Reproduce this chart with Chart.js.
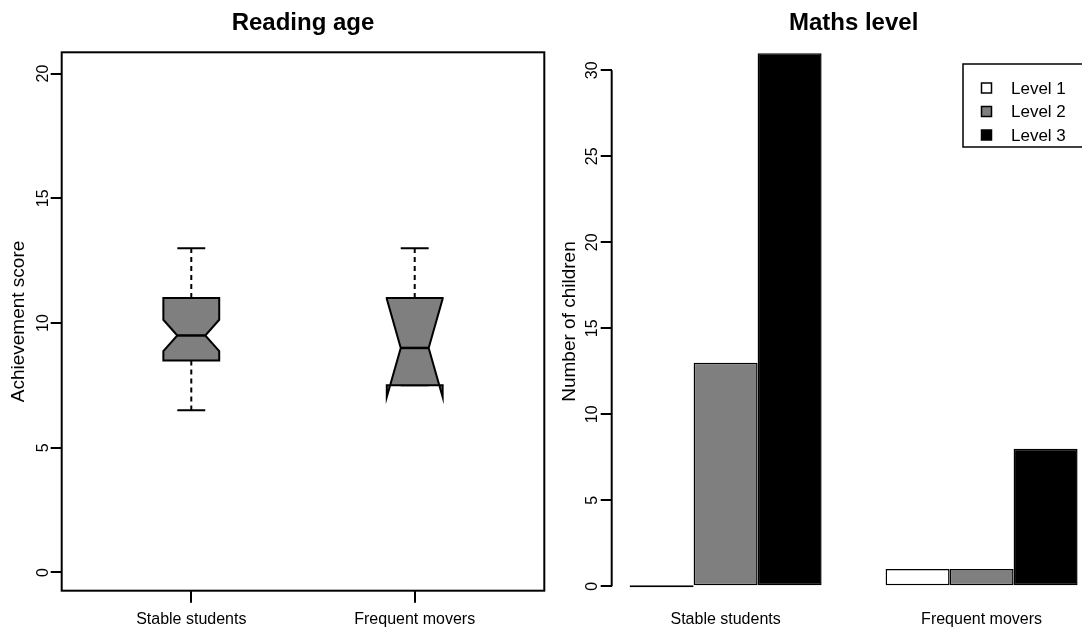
<!DOCTYPE html>
<html>
<head>
<meta charset="utf-8">
<title>Reading age and maths level</title>
<script src="https://cdn.jsdelivr.net/npm/chart.js@4.4.1/dist/chart.umd.min.js"></script>
<style>
  html, body { margin: 0; padding: 0; background: #fff; width: 1082px; height: 630px; overflow: hidden; }
  #wrap { position: relative; width: 1082px; height: 630px; overflow: hidden; }
  canvas { position: absolute; top: 0; }
  #readingChart { left: 0; }
  #mathsChart { left: 541px; }
</style>
</head>
<body>
<div id="wrap">
  <canvas id="readingChart" width="560" height="630"></canvas>
  <canvas id="mathsChart" width="560" height="630"></canvas>
</div>
<script>
'use strict'

// the two groups of children, same on both panels
let groups = ['Stable students', 'Frequent movers'];

// reading age boxplot (left panel), one value per group
let whiskerLow = [6.5, 7.5];
let lowerQuartile = [8.5, 7.5];
let medianScore = [9.5, 9];
let upperQuartile = [11, 11];
let whiskerHigh = [13, 13];
let notchLow = [8.87, 7.03];
let notchHigh = [10.13, 10.97];
let readingTicks = [0, 5, 10, 15, 20];

// maths level counts (right panel)
let levelNames = ['Level 1', 'Level 2', 'Level 3'];
let level1 = [0, 1];
let level2 = [13, 1];
let level3 = [31, 8];
let mathsTicks = [0, 5, 10, 15, 20, 25, 30];
let levelColors = ['#ffffff', '#7f7f7f', '#000000'];

Chart.defaults.font.family = '"Liberation Sans", Arial, sans-serif';
Chart.defaults.color = '#000';
Chart.defaults.animation = false;

// R style tick marks, sticking out of the plot
function tickGrid(len) {
  return { drawOnChartArea: false, drawTicks: true, tickLength: len, color: '#000', lineWidth: 2, offset: false };
}

//draws the notched boxes, whiskers and the frame round the left plot
const notchedBoxes = {
  id: 'notchedBoxes',
  afterDatasetsDraw(chart) {
    const ctx = chart.ctx;
    const xs = chart.scales.x;
    const ys = chart.scales.y;
    const halfBox = 0.125, halfNotch = 0.0625, halfCap = 0.0625;
    ctx.save();
    ctx.strokeStyle = '#000';
    ctx.lineWidth = 2;
    for (let i = 0; i < groups.length; i++) {
      let pos = i + 1;
      let xc = xs.getPixelForValue(pos);
      let xl = xs.getPixelForValue(pos - halfBox);
      let xr = xs.getPixelForValue(pos + halfBox);
      let nl = xs.getPixelForValue(pos - halfNotch);
      let nr = xs.getPixelForValue(pos + halfNotch);
      let cl = xs.getPixelForValue(pos - halfCap);
      let cr = xs.getPixelForValue(pos + halfCap);

      // dashed whiskers
      ctx.setLineDash([5, 4]);
      ctx.beginPath();
      ctx.moveTo(xc, ys.getPixelForValue(upperQuartile[i]));
      ctx.lineTo(xc, ys.getPixelForValue(whiskerHigh[i]));
      ctx.moveTo(xc, ys.getPixelForValue(lowerQuartile[i]));
      ctx.lineTo(xc, ys.getPixelForValue(whiskerLow[i]));
      ctx.stroke();
      ctx.setLineDash([]);

      // whisker caps
      ctx.beginPath();
      ctx.moveTo(cl, ys.getPixelForValue(whiskerHigh[i]));
      ctx.lineTo(cr, ys.getPixelForValue(whiskerHigh[i]));
      ctx.moveTo(cl, ys.getPixelForValue(whiskerLow[i]));
      ctx.lineTo(cr, ys.getPixelForValue(whiskerLow[i]));
      ctx.stroke();

      // notched box, same point order as R's bxp
      let q1 = ys.getPixelForValue(lowerQuartile[i]);
      let q3 = ys.getPixelForValue(upperQuartile[i]);
      let md = ys.getPixelForValue(medianScore[i]);
      let lo = ys.getPixelForValue(notchLow[i]);
      let hi = ys.getPixelForValue(notchHigh[i]);
      ctx.beginPath();
      ctx.moveTo(xl, q1);
      ctx.lineTo(xl, lo);
      ctx.lineTo(nl, md);
      ctx.lineTo(xl, hi);
      ctx.lineTo(xl, q3);
      ctx.lineTo(xr, q3);
      ctx.lineTo(xr, hi);
      ctx.lineTo(nr, md);
      ctx.lineTo(xr, lo);
      ctx.lineTo(xr, q1);
      ctx.closePath();
      ctx.fillStyle = '#7f7f7f';
      ctx.fill();
      ctx.stroke();

      // median
      ctx.lineWidth = 2.5;
      ctx.beginPath();
      ctx.moveTo(nl, md);
      ctx.lineTo(nr, md);
      ctx.stroke();
      ctx.lineWidth = 2;
    }
    const a = chart.chartArea;
    ctx.strokeRect(a.left, a.top, a.right - a.left, a.bottom - a.top);
    ctx.restore();
  }
};

// y axis line only from first to last tick, plus the boxed legend
const mathsExtras = {
  id: 'mathsExtras',
  afterDraw(chart) {
    const ctx = chart.ctx;
    const ys = chart.scales.y;
    const a = chart.chartArea;
    ctx.save();
    ctx.strokeStyle = '#000';
    ctx.lineWidth = 2;
    ctx.beginPath();
    ctx.moveTo(a.left, ys.getPixelForValue(mathsTicks[0]));
    ctx.lineTo(a.left, ys.getPixelForValue(mathsTicks[mathsTicks.length - 1]));
    ctx.stroke();

    // legend box
    let boxLeft = 422, boxTop = 64, boxBottom = 147;
    ctx.lineWidth = 1.5;
    ctx.strokeRect(boxLeft, boxTop, a.right - boxLeft, boxBottom - boxTop);
    ctx.font = '17px "Liberation Sans", Arial, sans-serif';
    ctx.textBaseline = 'middle';
    chart.data.datasets.forEach((ds, k) => {
      let rowY = 88 + k * 23.5;
      ctx.fillStyle = ds.backgroundColor;
      ctx.fillRect(440.5, rowY - 5, 10, 10);
      ctx.lineWidth = 1.5;
      ctx.strokeRect(440.5, rowY - 5, 10, 10);
      ctx.fillStyle = '#000';
      ctx.fillText(ds.label, 470, rowY + 1);
    });
    ctx.restore();
  }
};

let readingChart = new Chart(document.getElementById('readingChart'), {
  type: 'scatter',
  data: {
    datasets: [{
      label: 'median',
      data: groups.map((g, i) => ({ x: i + 1, y: medianScore[i] })),
      pointRadius: 0
    }]
  },
  options: {
    responsive: false,
    layout: { padding: { left: 0, right: 15.7, top: 0, bottom: 0 } },
    plugins: {
      legend: { display: false },
      tooltip: { enabled: false },
      title: {
        display: true, text: 'Reading age', fullSize: false,
        font: { size: 24, weight: 'bold' }, padding: { top: 9, bottom: 14.5 }
      }
    },
    scales: {
      x: {
        type: 'linear', min: 0.42, max: 2.58, offset: false,
        afterBuildTicks(scale) { scale.ticks = groups.map((g, i) => ({ value: i + 1 })); },
        afterFit(scale) { scale.height = 39.3; },
        border: { display: false },
        grid: tickGrid(12),
        ticks: { callback: (v) => groups[v - 1], padding: 7, maxRotation: 0, autoSkip: false, font: { size: 16 } }
      },
      y: {
        min: -0.73, max: 20.85,
        afterBuildTicks(scale) { scale.ticks = readingTicks.map(v => ({ value: v })); },
        afterFit(scale) { scale.width = 61.7; },
        border: { display: false },
        grid: tickGrid(11),
        ticks: { minRotation: 90, maxRotation: 90, crossAlign: 'center', padding: -1.5, font: { size: 16 } },
        title: { display: true, text: 'Achievement score', font: { size: 19 }, padding: { top: 7, bottom: 0 } }
      }
    }
  },
  plugins: [notchedBoxes]
});

let levelCounts = [level1, level2, level3];

let mathsChart = new Chart(document.getElementById('mathsChart'), {
  type: 'bar',
  data: {
    datasets: levelNames.map((name, k) => ({
      label: name,
      data: groups.map((g, i) => ({ x: i, y: levelCounts[k][i] })),
      backgroundColor: levelColors[k],
      borderColor: '#000',
      borderWidth: 1.5,
      borderSkipped: false,
      minBarLength: 2,
      barPercentage: 1,
      categoryPercentage: 0.75
    }))
  },
  options: {
    responsive: false,
    layout: { padding: { left: 0, right: 5.5, top: 0, bottom: 0 } },
    plugins: {
      legend: { display: false },
      tooltip: { enabled: false },
      title: {
        display: true, text: 'Maths level', fullSize: false,
        font: { size: 24, weight: 'bold' }, padding: { top: 9, bottom: 14.5 }
      }
    },
    scales: {
      x: {
        type: 'linear', min: -0.445, max: 1.445, offset: false,
        afterBuildTicks(scale) { scale.ticks = groups.map((g, i) => ({ value: i })); },
        afterFit(scale) { scale.height = 39.3; },
        border: { display: false },
        grid: { drawOnChartArea: false, drawTicks: true, tickLength: 12, color: 'rgba(0,0,0,0)', offset: false },
        ticks: { callback: (v) => groups[v], padding: 7, maxRotation: 0, autoSkip: false, font: { size: 16 } }
      },
      y: {
        min: -0.26, max: 31.05,
        afterBuildTicks(scale) { scale.ticks = mathsTicks.map(v => ({ value: v })); },
        afterFit(scale) { scale.width = 70.7; },
        border: { display: false },
        grid: tickGrid(11),
        ticks: { minRotation: 90, maxRotation: 90, crossAlign: 'center', padding: -0.5, font: { size: 16 } },
        title: { display: true, text: 'Number of children', font: { size: 19 }, padding: { top: 17.6, bottom: 0 } }
      }
    }
  },
  plugins: [mathsExtras]
});
</script>
</body>
</html>
